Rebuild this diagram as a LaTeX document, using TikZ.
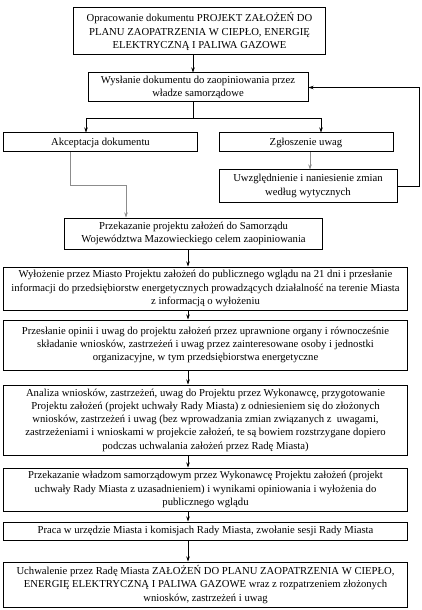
\documentclass[tikz,border=0pt]{standalone}
\usepackage{fontspec}
\setmainfont{Liberation Serif}
\usetikzlibrary{arrows.meta}
\begin{document}
\begin{tikzpicture}[x=1bp,y=-1bp,
  box/.style={draw, line width=1bp, inner sep=0pt, align=center,
    font=\fontsize{10.7}{13.3}\selectfont},
  conn/.style={line width=0.7bp, -{Stealth[length=5bp,width=3.5bp]}},
  plain/.style={line width=0.7bp},
  grayline/.style={draw=black!45}]
\useasboundingbox[fill=white] (0,0) rectangle (421,610);
% boxes
\node[box, minimum width=251bp, minimum height=47bp] (b1) at (199.5,31.5)
  {Opracowanie dokumentu PROJEKT ZAŁOŻEŃ DO\\PLANU ZAOPATRZENIA W CIEPŁO, ENERGIĘ\\ELEKTRYCZNĄ I PALIWA GAZOWE};
\node[box, minimum width=220bp, minimum height=29bp] (b2) at (198,87.5)
  {Wysłanie dokumentu do zaopiniowania przez\\władze samorządowe};
\node[box, minimum width=193bp, minimum height=19bp] (akc) at (100.5,142.5)
  {Akceptacja dokumentu};
\node[box, minimum width=174bp, minimum height=19bp] (zgl) at (306,142.5)
  {Zgłoszenie uwag};
\node[box, minimum width=178bp, minimum height=32bp] (uwz) at (308,186)
  {Uwzględnienie i naniesienie zmian\\według wytycznych};
\node[box, minimum width=257bp, minimum height=31bp] (prz1) at (193.5,233.5)
  {Przekazanie projektu założeń do Samorządu\\Województwa Mazowieckiego celem zaopiniowania};
\node[box, minimum width=403bp, minimum height=43bp] (wyl) at (205.5,288.5)
  {Wyłożenie przez Miasto Projektu założeń do publicznego wglądu na 21 dni i przesłanie\\informacji do przedsiębiorstw energetycznych prowadzących działalność na terenie Miasta\\z informacją o wyłożeniu};
\node[box, minimum width=403bp, minimum height=50bp] (prs) at (205.5,345)
  {Przesłanie opinii i uwag do projektu założeń przez uprawnione organy i równocześnie\\składanie wniosków, zastrzeżeń i uwag przez zainteresowane osoby i jednostki\\organizacyjne, w tym przedsiębiorstwa energetyczne};
\node[box, minimum width=403bp, minimum height=70bp] (ana) at (205.5,420)
  {Analiza wniosków, zastrzeżeń, uwag do Projektu przez Wykonawcę, przygotowanie\\Projektu założeń (projekt uchwały Rady Miasta) z odniesieniem się do złożonych\\wniosków, zastrzeżeń i uwag (bez wprowadzania zmian związanych z~ uwagami,\\zastrzeżeniami i wnioskami w projekcie założeń, te są bowiem rozstrzygane dopiero\\podczas uchwalania założeń przez Radę Miasta)};
\node[box, minimum width=403bp, minimum height=43bp] (prz2) at (205.5,489.5)
  {Przekazanie władzom samorządowym przez Wykonawcę Projektu założeń (projekt\\uchwały Rady Miasta z uzasadnieniem) i wynikami opiniowania i wyłożenia do\\publicznego wglądu};
\node[box, minimum width=403bp, minimum height=18bp] (pra) at (205.5,531)
  {Praca w urzędzie Miasta i komisjach Rady Miasta, zwołanie sesji Rady Miasta};
\node[box, minimum width=403bp, minimum height=45bp] (uch) at (205.5,584.5)
  {Uchwalenie przez Radę Miasta ZAŁOŻEŃ DO PLANU ZAOPATRZENIA W CIEPŁO,\\ENERGIĘ ELEKTRYCZNĄ I PALIWA GAZOWE wraz z rozpatrzeniem złożonych\\wniosków, zastrzeżeń i uwag};
% helper coordinates
\coordinate (topx) at (193,0);
\coordinate (split) at (193,118);
\coordinate (brL) at (86,118);
\coordinate (brR) at (321,118);
\coordinate (zx) at (310,0);
\coordinate (fb) at (419,0);
\coordinate (ak0) at (70,0);
\coordinate (ak1) at (70,185);
\coordinate (ak2) at (126,185);
\coordinate (colx) at (188,0);
% connectors
\draw[conn] (b1.south -| topx) -- (b2.north -| topx);
\draw[plain] (b2.south -| topx) -- (split);
\draw[conn] (split) -- (brL) -- (akc.north -| brL);
\draw[conn] (split) -- (brR) -- (zgl.north -| brR);
\draw[conn, grayline] (zgl.south -| zx) -- (uwz.north -| zx);
\draw[conn] (uwz.east) -- (uwz.east -| fb) -- (b2.east -| fb) -- (b2.east);
\draw[conn, grayline] (akc.south -| ak0) -- (ak1) -- (ak2) -- (prz1.north -| ak2);
\draw[conn] (prz1.south -| colx) -- (wyl.north -| colx);
\draw[conn] (wyl.south -| colx) -- (prs.north -| colx);
\draw[conn] (prs.south -| colx) -- (ana.north -| colx);
\draw[conn] (ana.south -| colx) -- (prz2.north -| colx);
\draw[conn] (prz2.south -| colx) -- (pra.north -| colx);
\draw[conn] (pra.south -| colx) -- (uch.north -| colx);
\end{tikzpicture}
\end{document}
